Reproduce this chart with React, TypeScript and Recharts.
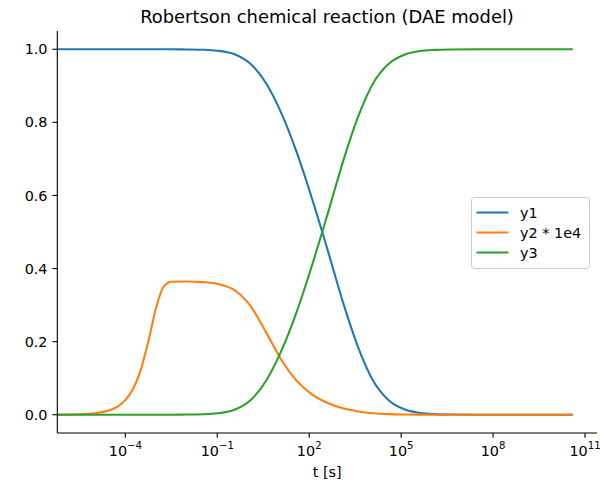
import React from 'react';
import { LineChart, Line, XAxis, YAxis, Legend } from 'recharts';

// time points [s]
const tValues = [
  6e-7, 2e-6, 1e-5, 3.2e-5, 5.6e-5, 1e-4, 1.8e-4, 3.2e-4, 5.6e-4, 1e-3, 1.8e-3, 3.2e-3,
  1e-2, 3.2e-2, 0.1, 0.4, 1.26, 4, 12.6, 40, 126, 400, 1260, 4000, 12600, 4e4, 1.26e5,
  4e5, 1.26e6, 4e6, 4e7, 4e8, 4e9, 4e10,
];
const y1Values = [
  1, 1, 1, 1, 1, 1, 1, 1, 1, 1, 0.9999, 0.9999,
  0.9996, 0.9988, 0.9962, 0.9852, 0.959, 0.9055, 0.8234, 0.7158, 0.589, 0.4505, 0.308, 0.1832, 0.091, 0.039, 0.0148,
  0.00494, 0.0016, 0.000516, 0.000052, 0.0000052, 0.00000052, 0.00000005,
];
const y2x1e4Values = [
  0.00024, 0.0008, 0.004, 0.0128, 0.0224, 0.0398, 0.071, 0.1229, 0.1994, 0.2915, 0.351, 0.364,
  0.3645, 0.3629, 0.3582, 0.3386, 0.2957, 0.224, 0.1489, 0.0919, 0.0551, 0.0322, 0.0175, 0.00894, 0.004, 0.00162, 0.00059,
  0.000198, 0.000064, 0.0000207, 0.000002, 0, 0, 0,
];
const y3Values = [
  0, 0, 0, 0, 0, 0, 0, 0, 0, 0.00003, 0.00005, 0.0001,
  0.00039, 0.00124, 0.0038, 0.0148, 0.041, 0.0945, 0.1766, 0.2842, 0.411, 0.5495, 0.692, 0.8168, 0.909, 0.961, 0.9852,
  0.9951, 0.9984, 0.99948, 0.99995, 0.999995, 1, 1,
];
const xTicks = [1e-4, 1e-1, 1e2, 1e5, 1e8, 1e11];
const yTicks = [0, 0.2, 0.4, 0.6, 0.8, 1.0];
const seriesNames = ['y1', 'y2 * 1e4', 'y3'];
const seriesColors = ['#1f77b4', '#ff7f0e', '#2ca02c'];

const data = tValues.map((t, i) => ({
  t,
  y1: y1Values[i],
  y2: y2x1e4Values[i],
  y3: y3Values[i],
}));

const FONT = '"DejaVu Sans", sans-serif';
const FS = 14.4;

const LogTick = (props: any) => {
  const { x, y, payload } = props;
  const exp = Math.round(Math.log10(payload.value));
  const expStr = exp < 0 ? '\u2212' + String(-exp) : String(exp);
  return (
    <text x={x} y={y + 18} textAnchor="middle" fontFamily={FONT} fontSize={FS} fill="#000">
      <tspan>10</tspan>
      <tspan dy={-6.5} fontSize={10.1}>{expStr}</tspan>
    </text>
  );
};

const LegendBox = () => (
  <svg width={120} height={73} style={{ display: 'block' }}>
    <rect x={0.5} y={0.5} width={118} height={71} rx={3} ry={3} fill="rgba(255,255,255,0.8)" stroke="#cccccc" strokeWidth={1} />
    {seriesNames.map((name, i) => (
      <g key={name}>
        <line x1={5.5} x2={37.5} y1={15.5 + i * 20} y2={15.5 + i * 20} stroke={seriesColors[i]} strokeWidth={2.08} />
        <text x={49} y={15.5 + i * 20} dy="0.36em" fontFamily={FONT} fontSize={FS} fill="#000">{name}</text>
      </g>
    ))}
  </svg>
);

export default function App() {
  return (
    <div style={{ position: 'absolute', left: 0, top: 0, width: 600, height: 482, background: '#fff' }}>
      <LineChart width={600} height={482} data={data} margin={{ top: 31, right: 3, bottom: 0, left: 0 }}>
        <text x={327} y={22.5} textAnchor="middle" fontFamily={FONT} fontSize={17.9} fill="#000">
          Robertson chemical reaction (DAE model)
        </text>
        <XAxis
          dataKey="t"
          type="number"
          scale="log"
          domain={[Math.pow(10, -6.22), Math.pow(10, 11.39)]}
          allowDataOverflow
          ticks={xTicks}
          tick={<LogTick />}
          tickSize={4.86}
          tickMargin={0}
          height={49}
          axisLine={{ stroke: '#000', strokeWidth: 1.1 }}
          tickLine={{ stroke: '#000', strokeWidth: 1.1 }}
          interval={0}
          label={{
            content: (p: any) => {
              const vb = p.viewBox || {};
              return (
                <text x={vb.x + vb.width / 2} y={477} textAnchor="middle" fontFamily={FONT} fontSize={FS} fill="#000">
                  t [s]
                </text>
              );
            },
          }}
        />
        <YAxis
          type="number"
          domain={[-0.05, 1.05]}
          allowDataOverflow
          ticks={yTicks}
          tickFormatter={(v: number) => v.toFixed(1)}
          width={57.3}
          tickSize={4.86}
          tickMargin={4.9}
          interval={0}
          tick={{ fontFamily: FONT, fontSize: FS, fill: '#000' }}
          axisLine={{ stroke: '#000', strokeWidth: 1.1 }}
          tickLine={{ stroke: '#000', strokeWidth: 1.1 }}
        />
        <Legend
          layout="vertical"
          align="center"
          verticalAlign="middle"
          content={() => <LegendBox />}
          wrapperStyle={{ position: 'absolute', left: 470.5, top: 196.5, width: 120, height: 73 }}
        />
        <Line type="monotone" dataKey="y1" name={seriesNames[0]} stroke={seriesColors[0]} strokeWidth={2.08} dot={false} isAnimationActive={false} />
        <Line type="monotone" dataKey="y2" name={seriesNames[1]} stroke={seriesColors[1]} strokeWidth={2.08} dot={false} isAnimationActive={false} />
        <Line type="monotone" dataKey="y3" name={seriesNames[2]} stroke={seriesColors[2]} strokeWidth={2.08} dot={false} isAnimationActive={false} />
      </LineChart>
    </div>
  );
}
